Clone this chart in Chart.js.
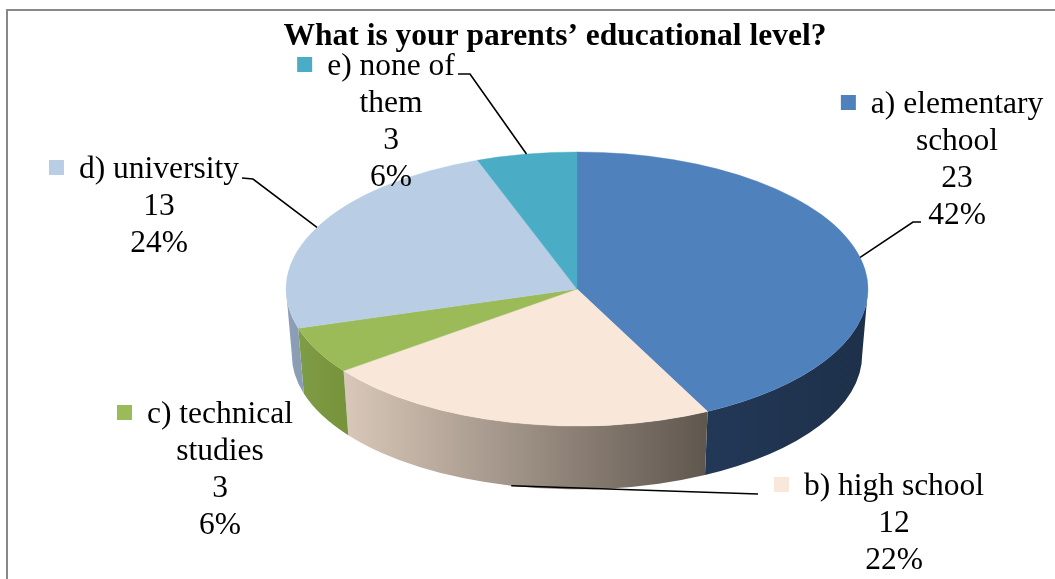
<!DOCTYPE html>
<html>
<head>
<meta charset="utf-8">
<title>Parents' educational level</title>
<script src="https://cdn.jsdelivr.net/npm/chart.js@4/dist/chart.umd.min.js"></script>
<style>
  html, body { margin: 0; padding: 0; background: #ffffff; }
  canvas { display: block; }
</style>
</head>
<body>
<canvas id="chart" width="1055" height="579"></canvas>
<script>
// ---- data ----
const chartTitle = "What is your parents’ educational level?";
const categories = [
  ["a) elementary", "school"],
  ["b) high school"],
  ["c) technical", "studies"],
  ["d) university"],
  ["e) none of", "them"]
];
const counts = [23, 12, 3, 13, 3];
const percentLabels = ["42%", "22%", "6%", "24%", "6%"];

// ---- styles ----
const topColors = ["#4F81BD", "#F9E7D9", "#9BBB59", "#B9CDE5", "#4BACC6"];
const sideColors = [
  ["#223857", "#1E3049"],
  ["#D9C8B9", "#5F564E"],
  ["#7F9D46", "#77933C"],
  ["#8C9FB7", "#8A9DB5"],
  ["#3A8599", "#367D90"]
];
const FONT_FAMILY = '"Liberation Serif", "Times New Roman", serif';
const LABEL_FONT = '31.5px ' + FONT_FAMILY;
const TITLE_FONT = 'bold 31.5px ' + FONT_FAMILY;
const LINE_HEIGHT = 37;

// tilted view of the pie: vertical squash, rim depth, centre of the top face
const view = { tilt: 0.471, depth: 66, centerY: 289, bottomScale: 0.98 };

// label blocks: centre x of the text, baseline of the first line, leader bend points
const labelLayout = [
  { x: 957, y: 113, leader: [[921, 222], [913, 222]] },
  { x: 894, y: 495, leader: [[758, 494]] },
  { x: 220, y: 423, leader: null },
  { x: 159, y: 178, leader: [[242, 178], [253, 179]] },
  { x: 391, y: 75,  leader: [[458, 74], [470, 74]] }
];

function pieGeometry(chart) {
  const meta = chart.getDatasetMeta(0);
  const first = meta.data[0];
  const r = first.outerRadius;
  return {
    meta,
    px: first.x, py: first.y,
    cx: first.x, cy: view.centerY,
    rx: r, ry: r * view.tilt,
    brx: r * view.bottomScale, bry: r * view.tilt * view.bottomScale
  };
}

// rim of the pie drawn below the slices, then the slices are squashed into an ellipse
const pie3d = {
  id: 'pie3d',
  beforeDatasetsDraw(chart) {
    const ctx = chart.ctx;
    const g = pieGeometry(chart);
    const by = g.cy + view.depth;
    g.meta.data.forEach((arc, i) => {
      for (let k = -1; k <= 1; k++) {
        const a1 = Math.max(arc.startAngle + 2 * Math.PI * k, 0);
        const a2 = Math.min(arc.endAngle + 2 * Math.PI * k, Math.PI);
        if (a2 <= a1) continue;
        const xr = g.cx + g.rx * Math.cos(a1);
        const xl = g.cx + g.rx * Math.cos(a2);
        const grad = ctx.createLinearGradient(Math.min(xl, xr), 0, Math.max(xl, xr) + 0.5, 0);
        grad.addColorStop(0, sideColors[i][0]);
        grad.addColorStop(1, sideColors[i][1]);
        ctx.beginPath();
        ctx.ellipse(g.cx, g.cy, g.rx, g.ry, 0, a1, a2, false);
        ctx.ellipse(g.cx, by, g.brx, g.bry, 0, a2, a1, true);
        ctx.closePath();
        ctx.fillStyle = grad;
        ctx.fill();
      }
    });
    ctx.save();
    ctx.translate(g.cx, g.cy);
    ctx.scale(1, view.tilt);
    ctx.translate(-g.px, -g.py);
  },
  afterDatasetsDraw(chart) {
    chart.ctx.restore();
  }
};

// frame, title, data labels with legend keys and leader lines
const decorations = {
  id: 'decorations',
  afterDraw(chart) {
    const ctx = chart.ctx;
    const g = pieGeometry(chart);

    ctx.save();
    ctx.strokeStyle = '#898989';
    ctx.lineWidth = 2;
    ctx.strokeRect(7, 10, 1200, 800);

    ctx.fillStyle = '#000000';
    ctx.font = TITLE_FONT;
    ctx.textAlign = 'center';
    ctx.textBaseline = 'alphabetic';
    ctx.fillText(chartTitle, 555, 45);

    // leader lines
    ctx.strokeStyle = '#000000';
    ctx.lineWidth = 1.6;
    g.meta.data.forEach((arc, i) => {
      const lay = labelLayout[i];
      if (!lay.leader) return;
      const mid = (arc.startAngle + arc.endAngle) / 2;
      const front = Math.sin(mid) > 0;
      const ax = front ? g.cx + g.brx * Math.cos(mid) : g.cx + g.rx * Math.cos(mid);
      const ay = front ? g.cy + view.depth + g.bry * Math.sin(mid) : g.cy + g.ry * Math.sin(mid);
      ctx.beginPath();
      ctx.moveTo(lay.leader[0][0], lay.leader[0][1]);
      for (let j = 1; j < lay.leader.length; j++) ctx.lineTo(lay.leader[j][0], lay.leader[j][1]);
      ctx.lineTo(ax, ay);
      ctx.stroke();
    });

    // label text
    ctx.font = LABEL_FONT;
    ctx.textAlign = 'center';
    counts.forEach((v, i) => {
      const lay = labelLayout[i];
      const lines = categories[i].concat([String(v), percentLabels[i]]);
      lines.forEach((t, j) => {
        ctx.fillStyle = '#000000';
        ctx.fillText(t, lay.x, lay.y + j * LINE_HEIGHT);
      });
      const w = ctx.measureText(lines[0]).width;
      const left = lay.x - w / 2;
      ctx.fillStyle = topColors[i];
      ctx.fillRect(left - 30, lay.y - 18, 15, 15);
    });
    ctx.restore();
  }
};

new Chart(document.getElementById('chart'), {
  type: 'pie',
  data: {
    labels: categories.map(c => c.join(' ')),
    datasets: [{
      data: counts,
      backgroundColor: topColors,
      borderColor: topColors,
      borderWidth: 0.5,
      radius: 291,
      clip: false
    }]
  },
  options: {
    responsive: false,
    animation: false,
    events: [],
    layout: { padding: { left: 99, right: 0, top: 0, bottom: 0 } },
    plugins: {
      legend: { display: false },
      title: { display: false },
      tooltip: { enabled: false }
    }
  },
  plugins: [pie3d, decorations]
});
</script>
</body>
</html>
